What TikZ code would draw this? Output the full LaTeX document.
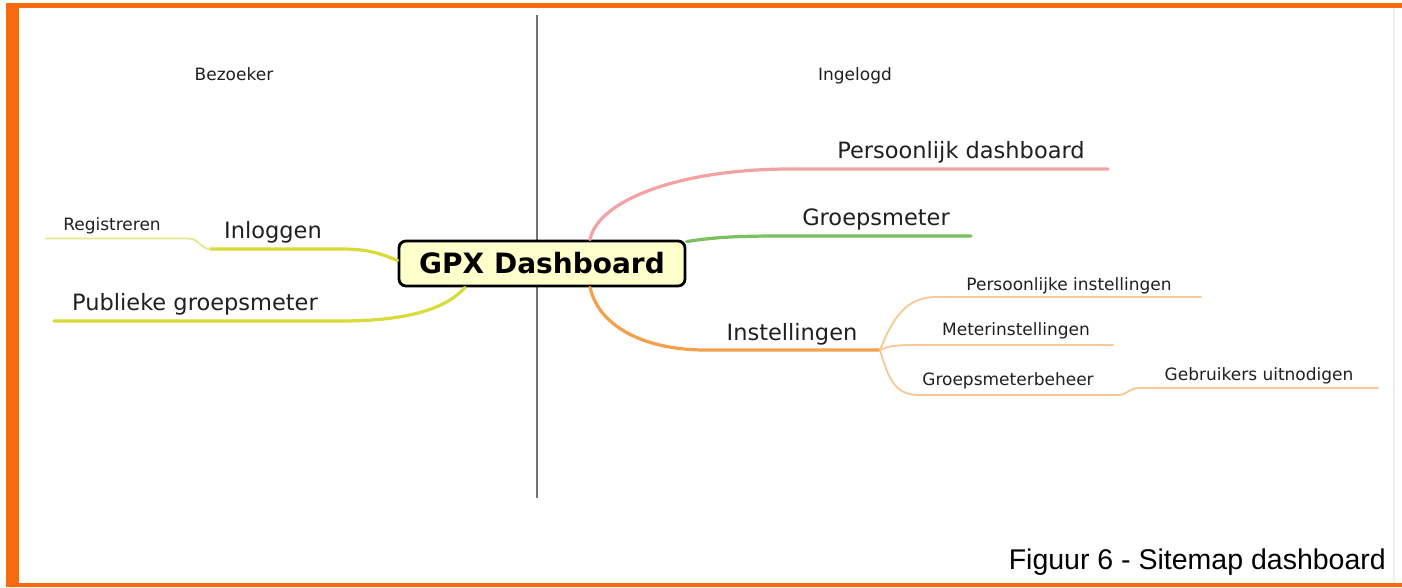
\documentclass[tikz,border=0pt]{standalone}
\usepackage{fontspec}
\setmainfont{DejaVu Sans}
\newfontfamily\capfont{Liberation Sans}
\usetikzlibrary{calc}
\definecolor{frameorange}{HTML}{F86A0E}
\definecolor{yelline}{HTML}{DADA3A}
\definecolor{yellight}{HTML}{E6E68A}
\definecolor{pinkline}{HTML}{F2A2A2}
\definecolor{greenline}{HTML}{78C060}
\definecolor{orangeline}{HTML}{F4A04A}
\definecolor{orangelight}{HTML}{F8C894}
\definecolor{hubfill}{HTML}{FFFFCC}
\definecolor{txt}{HTML}{202020}
\tikzset{
  big/.style={font=\fontsize{22.5}{26}\selectfont, text=txt, inner sep=0pt, anchor=base},
  small/.style={font=\fontsize{17}{20}\selectfont, text=txt, inner sep=0pt, anchor=base},
  hub/.style={draw=black, line width=2.8pt, fill=hubfill, rounded corners=7pt,
    minimum width=286pt, minimum height=45pt, inner sep=0pt,
    font=\bfseries\fontsize{28}{32}\selectfont},
  mainbr/.style={line width=3.2pt, line cap=round},
  subbr/.style={line width=1.8pt, line cap=round},
}
\begin{document}
\begin{tikzpicture}[x=1pt,y=-1pt]
\useasboundingbox (0,0) rectangle (1402,587);
\fill[white] (0,0) rectangle (1402,587);
\fill[frameorange] (6,3) rectangle (1402,8);
\fill[frameorange] (6,3) rectangle (19,587);
\fill[frameorange] (6,583) rectangle (1402,587);
\draw[black!6, line width=1.5pt] (1394,8) -- (1394,583);

% divider
\coordinate (vtop) at (537,15);
\coordinate (vbot) at (537,498);
\draw[black!55, line width=2pt] (vtop) -- (vbot);

% headings
\node[small] (bez) at (234,80) {Bezoeker};
\node[small] (ing) at (855,80) {Ingelogd};

% hub
\node[hub] (gpx) at (542,263.5) {GPX Dashboard};

% labels
\node[small] (reg) at (112,230.5) {Registreren};
\node[big] (inl) at (273,238) {Inloggen};
\node[big] (pub) at (195,310.5) {Publieke groepsmeter};
\node[big] (pdb) at (961,158) {Persoonlijk dashboard};
\node[big] (grp) at (876,225) {Groepsmeter};
\node[big] (ins) at (792,340) {Instellingen};
\node[small] (pin) at (1069,290) {Persoonlijke instellingen};
\node[small] (mtr) at (1016,335) {Meterinstellingen};
\node[small] (gmb) at (1008,385) {Groepsmeterbeheer};
\node[small] (gbu) at (1259,380) {Gebruikers uitnodigen};

% branch end points
\coordinate (inlJ) at (210,249);
\coordinate (regE) at (46,238.5);
\coordinate (pubE) at (54,321);
\coordinate (pdbE) at (1108,169);
\coordinate (grpE) at (971,236);
\coordinate (insJ) at (880,350);
\coordinate (pinE) at (1201,297);
\coordinate (mtrE) at (1113,345);
\coordinate (gmbJ) at (1118,395);
\coordinate (gbuE) at (1378,388);

% left branches
\draw[mainbr, yelline] ($(gpx.west)+(0,-3)$) .. controls (375,251) and (362,249) .. (340,249) -- (inlJ);
\draw[subbr, yellight] (inlJ) .. controls (200,249) and (200,238.5) .. (188,238.5) -- (regE);
\draw[mainbr, yelline] ($(gpx.south)+(-77,0)$) .. controls (440,316) and (385,321) .. (340,321) -- (pubE);

% right branches
\draw[mainbr, pinkline] ($(gpx.north)+(48,0)$) .. controls (598,200) and (680,169) .. (790,169) -- (pdbE);
\draw[mainbr, greenline] ($(gpx.north east)+(0,2)$) .. controls (715,237) and (740,236) .. (780,236) -- (grpE);
\draw[mainbr, orangeline] ($(gpx.south)+(48,0)$) .. controls (600,330) and (650,350) .. (705,350) -- (insJ);
\draw[subbr, orangelight] (insJ) .. controls (892,320) and (905,297) .. (936,297) -- (pinE);
\draw[subbr, orangelight] (insJ) .. controls (890,346) .. (906,345) -- (mtrE);
\draw[subbr, orangelight] (insJ) .. controls (890,385) and (898,395) .. (920,395) -- (gmbJ);
\draw[subbr, orangelight] (gmbJ) .. controls (1128,395) and (1128,388) .. (1140,388) -- (gbuE);

% caption
\node[font=\capfont\fontsize{28.5}{32}\selectfont, text=black, inner sep=0pt, anchor=base east] (cap) at (1386,569) {Figuur 6 - Sitemap dashboard};
\end{tikzpicture}
\end{document}
